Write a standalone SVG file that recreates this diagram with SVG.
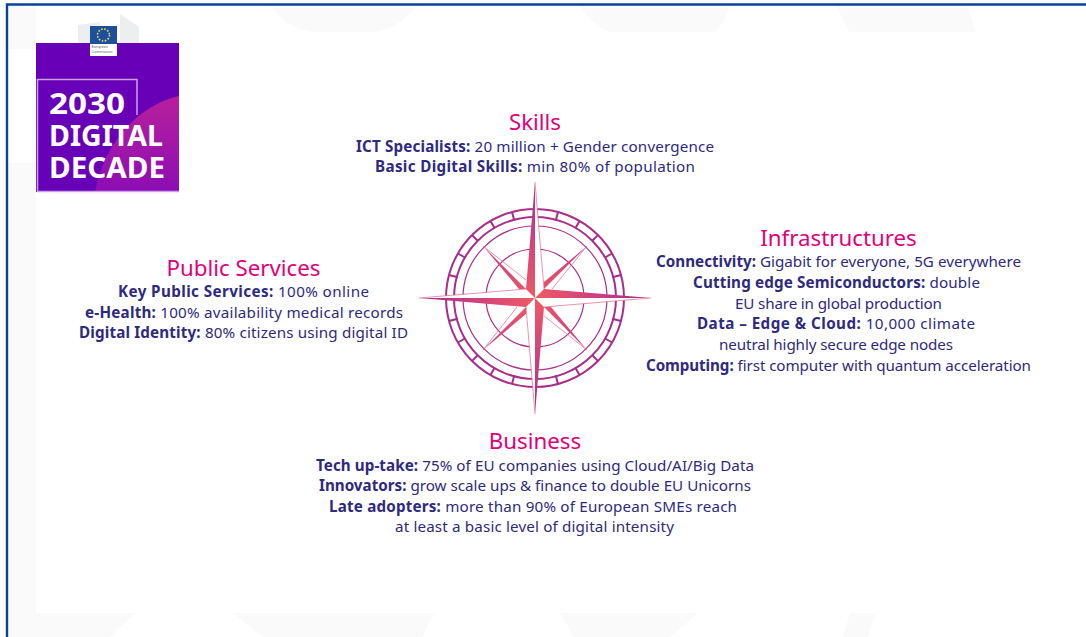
<svg xmlns="http://www.w3.org/2000/svg" width="1086" height="637" viewBox="0 0 1086 637">
<style>
text{font-family:"Noto Sans","Open Sans","DejaVu Sans",sans-serif}
.h{font-size:22.3px;fill:#e2007a;text-anchor:middle}
.t{font-size:15.2px;fill:#2e2a80;text-anchor:middle}
.t tspan.b{font-weight:700}
.r{fill:none;stroke:url(#rg);stroke-width:2}
.r2{fill:none;stroke:url(#rg);stroke-width:1.200}
.f{fill:url(#g)}
.l{fill:none;stroke:#e0648c;stroke-width:.7}
.w{fill:#fff;font-weight:700}
.ghost{fill:#fafafa}
</style>
<defs>
<radialGradient id="g" gradientUnits="userSpaceOnUse" cx="535" cy="298" r="116">
<stop offset="0" stop-color="#ee5c62"/><stop offset=".5" stop-color="#d0417e"/><stop offset="1" stop-color="#a52a8c"/>
</radialGradient>
<linearGradient id="rg" gradientUnits="userSpaceOnUse" x1="446" y1="298" x2="624" y2="298">
<stop offset="0" stop-color="#a62c90"/><stop offset=".5" stop-color="#b03088"/><stop offset="1" stop-color="#a62c90"/>
</linearGradient>
<linearGradient id="blob" x1="0" y1="0" x2="0" y2="1">
<stop offset="0" stop-color="#b8209c"/><stop offset="1" stop-color="#8c0db4"/>
</linearGradient>
</defs>
<rect width="1086" height="637" fill="#fff"/>
<g id="background">
<path class="ghost" d="M270,5H417Q400,28 374,32H314Q285,28 270,5Z"/>
<path class="ghost" d="M579,5H729Q727,20 715,32H609Q590,22 579,5Z"/>
<path class="ghost" d="M836,5H968L975,32H849Z"/>
<path class="ghost" d="M8,5H36V49H8Z"/>
<path class="ghost" d="M8,163H36V613H135L109,637H8Z"/>
<path class="ghost" d="M233,613H434L422,637H263Z"/>
<path class="ghost" d="M560,613H698L670,637H574Z"/>
<path class="ghost" d="M850,613H876L867,637H843Z"/>
<path d="M7,637V4.500H1086" fill="none" stroke="#0b409f" stroke-width="2.400"/>
</g>
<g id="logo">
<path d="M78,43V25L100,22V43Z" fill="#eceef0"/>
<path d="M120,14L139,27V43H120Z" fill="#eceef0"/>
<rect x="36" y="43" width="143" height="149" fill="#6800b8"/>
<path d="M179,96C140,105 105,140 95,192H179Z" fill="url(#blob)"/>
<rect x="90" y="26" width="27" height="30" fill="#fff"/>
<rect x="90" y="26" width="27" height="18" fill="#1d4f9c"/>
<circle cx="103.500" cy="35" r="6" fill="none" stroke="#e8dc50" stroke-width="1.600" stroke-dasharray="1.600 1.540"/>
<text x="91.500" y="48" font-size="3.600" fill="#555">European</text>
<text x="91.500" y="53" font-size="3.600" fill="#555">Commission</text>
<path d="M137,115V79.500H37.500V191.500H179" fill="none" stroke="#c9a3ea" stroke-width="1.500"/>
<text class="w" x="49" y="113.500" font-size="29" textLength="76" lengthAdjust="spacingAndGlyphs">2030</text>
<text class="w" x="49" y="146" font-size="29" textLength="114" lengthAdjust="spacingAndGlyphs">DIGITAL</text>
<text class="w" x="49" y="178" font-size="29" textLength="116" lengthAdjust="spacingAndGlyphs">DECADE</text>
</g>
<g id="compass">
<circle class="r" cx="535" cy="298" r="89"/>
<circle class="r" cx="535" cy="298" r="81"/>
<circle class="r2" cx="535" cy="298" r="72"/>
<circle class="r2" cx="535" cy="298" r="49"/>
<g transform="translate(535 298)" stroke="#a62c90" stroke-width="2">
<path id="ticks" d="M0,-81V-89M20.700,-77.300L23,-86M40.500,-70.100L44.500,-77.100M57.300,-57.300L62.900,-62.900M70.100,-40.500L77.100,-44.500M77.300,-20.700L86,-23M81,0H89M77.300,20.700L86,23M70.100,40.500L77.100,44.500M57.300,57.300L62.900,62.900M40.500,70.100L44.500,77.100M20.700,77.300L23,86M0,81V89M-20.700,77.300L-23,86M-40.500,70.100L-44.500,77.100M-57.300,57.300L-62.900,62.900M-70.100,40.500L-77.100,44.500M-77.300,20.700L-86,23M-81,0H-89M-77.300,-20.700L-86,-23M-70.100,-40.500L-77.100,-44.500M-57.300,-57.300L-62.900,-62.900M-40.500,-70.100L-44.500,-77.100M-20.700,-77.300L-23,-86" fill="none"/>
</g>
<path fill="#fff" d="M535,298 535,182 544,289Z M535,298 651,298 544,307Z M535,298 535,414 526,307Z M535,298 419,298 526,289Z"/>
<path class="f" d="M535,298 535,182 526,289Z M535,298 651,298 544,289Z M535,298 535,414 544,307Z M535,298 419,298 526,307Z"/>
<path class="f" d="M544,289 587,246 544,282Z M526,289 483,246 519,289Z M544,307 587,350 551,307Z M526,307 483,350 526,314Z"/>
<path class="l" d="M535,182 544,289M651,298 544,307M535,414 526,307M419,298 526,289M587,246 552,289M483,246 526,280M587,350 544,316M483,350 517,307"/>
</g>
<g id="skills">
<text class="h" x="535" y="130">Skills</text>
<text class="t" x="535" y="152" textLength="358"><tspan class="b">ICT Specialists:</tspan> 20 million + Gender convergence</text>
<text class="t" x="535" y="172" textLength="320"><tspan class="b">Basic Digital Skills:</tspan> min 80% of population</text>
</g>
<g id="infrastructures">
<text class="h" x="838.500" y="246">Infrastructures</text>
<text class="t" x="838.500" y="267" textLength="365"><tspan class="b">Connectivity:</tspan> Gigabit for everyone, 5G everywhere</text>
<text class="t" x="836.500" y="288" textLength="287"><tspan class="b">Cutting edge Semiconductors:</tspan> double</text>
<text class="t" x="838.500" y="309" textLength="207">EU share in global production</text>
<text class="t" x="836" y="329" textLength="278"><tspan class="b">Data – Edge &amp; Cloud:</tspan> 10,000 climate</text>
<text class="t" x="836" y="350" textLength="234">neutral highly secure edge nodes</text>
<text class="t" x="838.500" y="371" textLength="385"><tspan class="b">Computing:</tspan> first computer with quantum acceleration</text>
</g>
<g id="public-services">
<text class="h" x="243.500" y="276">Public Services</text>
<text class="t" x="243.500" y="297" textLength="251"><tspan class="b">Key Public Services:</tspan> 100% online</text>
<text class="t" x="244" y="318" textLength="318"><tspan class="b">e-Health:</tspan> 100% availability medical records</text>
<text class="t" x="243.500" y="338" textLength="329"><tspan class="b">Digital Identity:</tspan> 80% citizens using digital ID</text>
</g>
<g id="business">
<text class="h" x="535" y="449">Business</text>
<text class="t" x="535" y="471" textLength="438"><tspan class="b">Tech up-take:</tspan> 75% of EU companies using Cloud/AI/Big Data</text>
<text class="t" x="535" y="491" textLength="432"><tspan class="b">Innovators:</tspan> grow scale ups &amp; finance to double EU Unicorns</text>
<text class="t" x="533" y="512" textLength="408"><tspan class="b">Late adopters:</tspan> more than 90% of European SMEs reach</text>
<text class="t" x="534.500" y="532" textLength="279">at least a basic level of digital intensity</text>
</g>
</svg>
